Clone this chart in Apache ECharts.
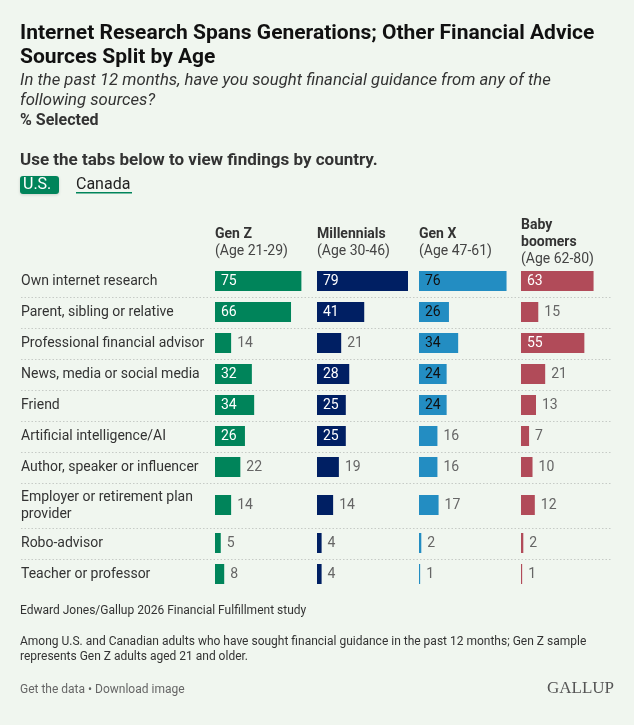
<!DOCTYPE html>
<html>
<head>
<meta charset="utf-8">
<script src="https://cdn.jsdelivr.net/npm/echarts@6/dist/echarts.min.js"></script>
<style>
  html, body { margin: 0; padding: 0; background: #f0f6ef; }
  #chart { width: 634px; height: 725px; }
</style>
</head>
<body>
<div id="chart"></div>
<script>
// data (U.S. tab)
const sources = [
    'Own internet research',
    'Parent, sibling or relative',
    'Professional financial advisor',
    'News, media or social media',
    'Friend',
    'Artificial intelligence/AI',
    'Author, speaker or influencer',
    'Employer or retirement plan\nprovider',
    'Robo-advisor',
    'Teacher or professor'
];
const genZ = [75, 66, 14, 32, 34, 26, 22, 14, 5, 8];
const millennials = [79, 41, 21, 28, 25, 25, 19, 14, 4, 4];
const genX = [76, 26, 34, 24, 24, 16, 16, 17, 2, 1];
const boomers = [63, 15, 55, 21, 13, 7, 10, 12, 2, 1];
const groupNames = ['Gen Z', 'Millennials', 'Gen X', 'Baby\nboomers'];
const groupAges = ['(Age 21-29)', '(Age 30-46)', '(Age 47-61)', '(Age 62-80)'];

const colors = ['#00845a', '#001f63', '#238dc2', '#b14b59'];
const insideText = ['#ffffff', '#ffffff', '#111111', '#ffffff'];
const font = 'Roboto, "Open Sans", sans-serif';

// row layout: two-line labels get a taller row
const rowH = sources.map(s => s.indexOf('\n') >= 0 ? 45 : 31);
const total = rowH.reduce((a, b) => a + b, 0);
const centers = [];
let acc = 0;
rowH.forEach(h => { centers.push(acc + h / 2); acc += h; });
const bounds = [];
acc = 0;
rowH.slice(0, -1).forEach(h => { acc += h; bounds.push(acc); });

const gridTop = 265.5;
const panelLeft = 215, panelStep = 102, panelW = 91;
const xMax = Math.max(...genZ, ...millennials, ...genX, ...boomers);
const series = [genZ, millennials, genX, boomers];

const chart = echarts.init(document.getElementById('chart'), null, {renderer: 'canvas'});

const grids = [{left: 21, width: 591, top: gridTop, height: total}];
const xAxes = [{gridIndex: 0, type: 'value', min: 0, max: 1, show: false}];
const yAxes = [{gridIndex: 0, type: 'value', min: 0, max: total, inverse: true, show: false}];
series.forEach((s, i) => {
    grids.push({left: panelLeft + panelStep * i, width: panelW, top: gridTop, height: total});
    xAxes.push({gridIndex: i + 1, type: 'value', min: 0, max: xMax, show: false});
    yAxes.push({gridIndex: i + 1, type: 'value', min: 0, max: total, inverse: true, show: false});
});

function barRender(k) {
    return function (params, api) {
        const v = api.value(0);
        const c = api.value(1);
        const p0 = api.coord([0, c]);
        const p1 = api.coord([v, c]);
        const inside = v >= 23;
        return {
            type: 'group',
            children: [
                {
                    type: 'rect',
                    shape: {x: p0[0], y: p0[1] - 10, width: Math.max(p1[0] - p0[0], 1), height: 20},
                    style: {fill: colors[k]}
                },
                {
                    type: 'text',
                    style: {
                        text: String(v),
                        x: inside ? p0[0] + 6 : p1[0] + 6,
                        y: p0[1] + 0.5,
                        verticalAlign: 'middle',
                        fill: inside ? insideText[k] : '#666666',
                        fontSize: 14,
                        fontFamily: font
                    }
                }
            ]
        };
    };
}

const allSeries = [
    {
        // dotted row separators
        type: 'custom',
        xAxisIndex: 0,
        yAxisIndex: 0,
        silent: true,
        data: bounds.map(b => [0, b]),
        renderItem: (params, api) => {
            const a = api.coord([0, api.value(1)]);
            const b = api.coord([1, api.value(1)]);
            return {
                type: 'line',
                shape: {x1: a[0], y1: Math.round(a[1]) + 0.5, x2: b[0], y2: Math.round(a[1]) + 0.5},
                style: {stroke: '#c6cbc6', lineWidth: 1, lineDash: [1.5, 2]}
            };
        }
    },
    {
        // row labels
        type: 'custom',
        xAxisIndex: 0,
        yAxisIndex: 0,
        silent: true,
        data: sources.map((s, i) => [0, centers[i]]),
        renderItem: (params, api) => {
            const p = api.coord([0, api.value(1)]);
            return {
                type: 'text',
                style: {
                    text: sources[params.dataIndex],
                    x: p[0],
                    y: p[1] + 0.5,
                    verticalAlign: 'middle',
                    fill: '#333333',
                    fontSize: 14,
                    lineHeight: 17,
                    fontFamily: font
                }
            };
        }
    }
];
series.forEach((s, k) => {
    allSeries.push({
        type: 'custom',
        name: groupNames[k],
        xAxisIndex: k + 1,
        yAxisIndex: k + 1,
        data: s.map((v, i) => [v, centers[i]]),
        renderItem: barRender(k)
    });
});

// column headers, centred vertically on the same line
const headers = groupNames.map((g, k) => {
    const lines = g.split('\n');
    return {
        type: 'text',
        left: panelLeft + panelStep * k,
        top: 244 - (lines.length + 1) * 17 / 2,
        style: {
            text: lines.map(t => '{b|' + t + '}').join('\n') + '\n{n|' + groupAges[k] + '}',
            rich: {
                b: {fontSize: 14, fontWeight: 'bold', fill: '#333333', lineHeight: 17, fontFamily: font},
                n: {fontSize: 14, fill: '#444444', lineHeight: 17, fontFamily: font}
            }
        }
    };
});

const option = {
    backgroundColor: '#f0f6ef',
    animation: false,
    grid: grids,
    xAxis: xAxes,
    yAxis: yAxes,
    series: allSeries,
    graphic: [
        {
            type: 'text', left: 20, top: 22,
            style: {
                text: 'Internet Research Spans Generations; Other Financial Advice\nSources Split by Age',
                fontSize: 21, fontWeight: 'bold', lineHeight: 24, fill: '#111111', fontFamily: font
            }
        },
        {
            type: 'text', left: 20, top: 71,
            style: {
                text: 'In the past 12 months, have you sought financial guidance from any of the\nfollowing sources?',
                fontSize: 16.7, fontStyle: 'italic', lineHeight: 20, fill: '#333333', fontFamily: font
            }
        },
        {
            type: 'text', left: 20, top: 113,
            style: {text: '% Selected', fontSize: 16, fontWeight: 'bold', fill: '#333333', fontFamily: font}
        },
        {
            type: 'text', left: 20, top: 152,
            style: {
                text: 'Use the tabs below to view findings by country.',
                fontSize: 17, fontWeight: 'bold', fill: '#333333', fontFamily: font
            }
        },
        {
            type: 'rect', left: 20, top: 176,
            shape: {width: 39, height: 18, r: 3},
            style: {fill: '#00845a', shadowBlur: 3, shadowColor: 'rgba(0,0,0,0.15)', shadowOffsetY: 1}
        },
        {
            type: 'text', left: 23, top: 177,
            style: {text: 'U.S.', fontSize: 16, fill: '#ffffff', fontFamily: font}
        },
        {
            type: 'text', left: 76, top: 177,
            style: {text: 'Canada', fontSize: 16, fill: '#222222', fontFamily: font}
        },
        {
            type: 'rect', left: 76, top: 192,
            shape: {width: 56, height: 1.5},
            style: {fill: '#00845a'}
        },
        ...headers,
        {
            type: 'text', left: 20, top: 605,
            style: {
                text: 'Edward Jones/Gallup 2026 Financial Fulfillment study',
                fontSize: 12, fill: '#333333', fontFamily: font
            }
        },
        {
            type: 'text', left: 20, top: 634,
            style: {
                text: 'Among U.S. and Canadian adults who have sought financial guidance in the past 12 months; Gen Z sample\nrepresents Gen Z adults aged 21 and older.',
                fontSize: 12, lineHeight: 15, fill: '#333333', fontFamily: font
            }
        },
        {
            type: 'text', left: 20, top: 684,
            style: {text: 'Get the data \u2022 Download image', fontSize: 12, fill: '#666666', fontFamily: font}
        },
        {
            type: 'text', right: 20, top: 680,
            style: {text: 'GALLUP', fontSize: 17, fill: '#555555', fontFamily: '"Liberation Serif", "DejaVu Serif", serif'}
        }
    ]
};
chart.setOption(option);
</script>
</body>
</html>
